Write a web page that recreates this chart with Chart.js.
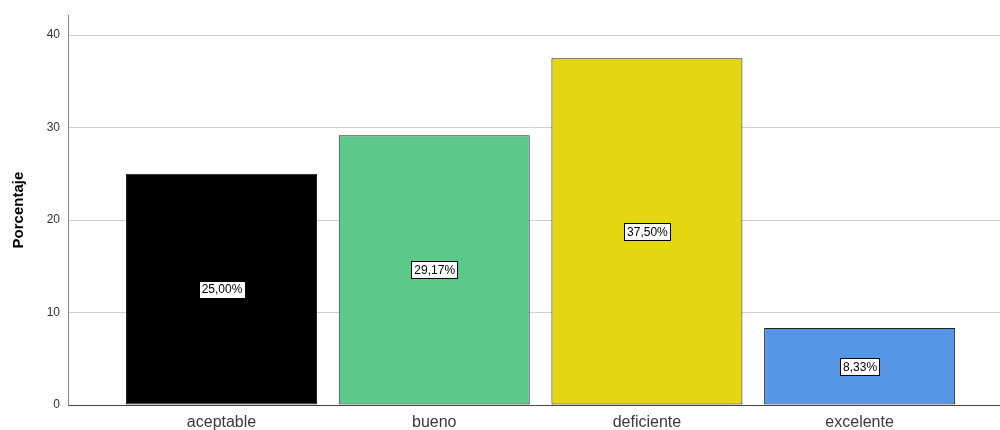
<!DOCTYPE html>
<html>
<head>
<meta charset="utf-8">
<script src="https://cdn.jsdelivr.net/npm/chart.js@4/dist/chart.umd.min.js"></script>
<style>
  html, body { margin: 0; padding: 0; background: #ffffff; }
  #wrap { width: 1000px; height: 430px; position: relative; }
</style>
</head>
<body>
<div id="wrap"><canvas id="c"></canvas></div>
<script>
const categories = ['aceptable', 'bueno', 'deficiente', 'excelente'];
const percentages = [25.00, 29.17, 37.50, 8.33];
const valueLabels = ['25,00%', '29,17%', '37,50%', '8,33%'];
const barColors = ['#000000', '#5cc98b', '#e3d70f', '#5596e6'];
const yTicks = [0, 10, 20, 30, 40];

const points = categories.map((c, i) => ({ x: i, y: percentages[i] }));

const labelPlugin = {
  id: 'valueLabels',
  afterDatasetsDraw(chart) {
    const ctx = chart.ctx;
    const meta = chart.getDatasetMeta(0);
    ctx.save();
    ctx.font = '12px "Liberation Sans", Arial, sans-serif';
    ctx.textAlign = 'center';
    ctx.textBaseline = 'middle';
    meta.data.forEach((bar, i) => {
      const cx = bar.x;
      const cy = (bar.y + bar.base) / 2;
      const txt = valueLabels[i];
      const w = Math.round(ctx.measureText(txt).width + 5);
      const h = 17;
      const x0 = Math.round(cx - w / 2) + 0.5;
      const y0 = Math.round(cy - h / 2) + 0.5;
      ctx.fillStyle = '#ffffff';
      ctx.fillRect(x0, y0, w, h);
      ctx.strokeStyle = '#000000';
      ctx.lineWidth = 1;
      ctx.strokeRect(x0, y0, w, h);
      ctx.fillStyle = '#000000';
      ctx.fillText(txt, cx + 0.5, cy + 1);
    });
    ctx.restore();
  }
};

new Chart(document.getElementById('c'), {
  type: 'bar',
  data: {
    datasets: [{
      data: points,
      backgroundColor: barColors,
      borderColor: '#222222',
      borderWidth: 1,
      borderSkipped: false,
      categoryPercentage: 1,
      barPercentage: 0.898
    }]
  },
  options: {
    responsive: true,
    maintainAspectRatio: false,
    animation: false,
    layout: { padding: { left: 0, right: 0, top: 14, bottom: 0 } },
    plugins: { legend: { display: false }, tooltip: { enabled: false } },
    scales: {
      x: {
        type: 'linear',
        min: -0.7218,
        max: 3.660,
        offset: false,
        afterBuildTicks: (s) => { s.ticks = categories.map((c, i) => ({ value: i })); },
        afterFit: (s) => { s.height = 25; },
        ticks: {
          callback: (v) => categories[v] !== undefined ? categories[v] : '',
          font: { family: '"Liberation Sans", Arial, sans-serif', size: 16 },
          color: '#3a3a3a',
          padding: 8,
          maxRotation: 0,
          autoSkip: false
        },
        grid: { display: false, drawTicks: false },
        border: { display: true, color: '#444444', width: 1 }
      },
      y: {
        min: 0,
        max: 42.16,
        afterBuildTicks: (s) => { s.ticks = yTicks.map(v => ({ value: v })); },
        afterFit: (s) => { s.width = 68; },
        ticks: {
          font: { family: '"Liberation Sans", Arial, sans-serif', size: 12 },
          color: '#333333',
          padding: 8
        },
        grid: { color: '#d0d0d0', lineWidth: 1, drawTicks: false },
        border: { display: true, color: '#888888', width: 1 },
        title: {
          display: true,
          text: 'Porcentaje',
          font: { family: '"Liberation Sans", Arial, sans-serif', size: 15, weight: 'bold' },
          color: '#000000',
          padding: { top: 10, bottom: 0 }
        }
      }
    }
  },
  plugins: [labelPlugin]
});
</script>
</body>
</html>
